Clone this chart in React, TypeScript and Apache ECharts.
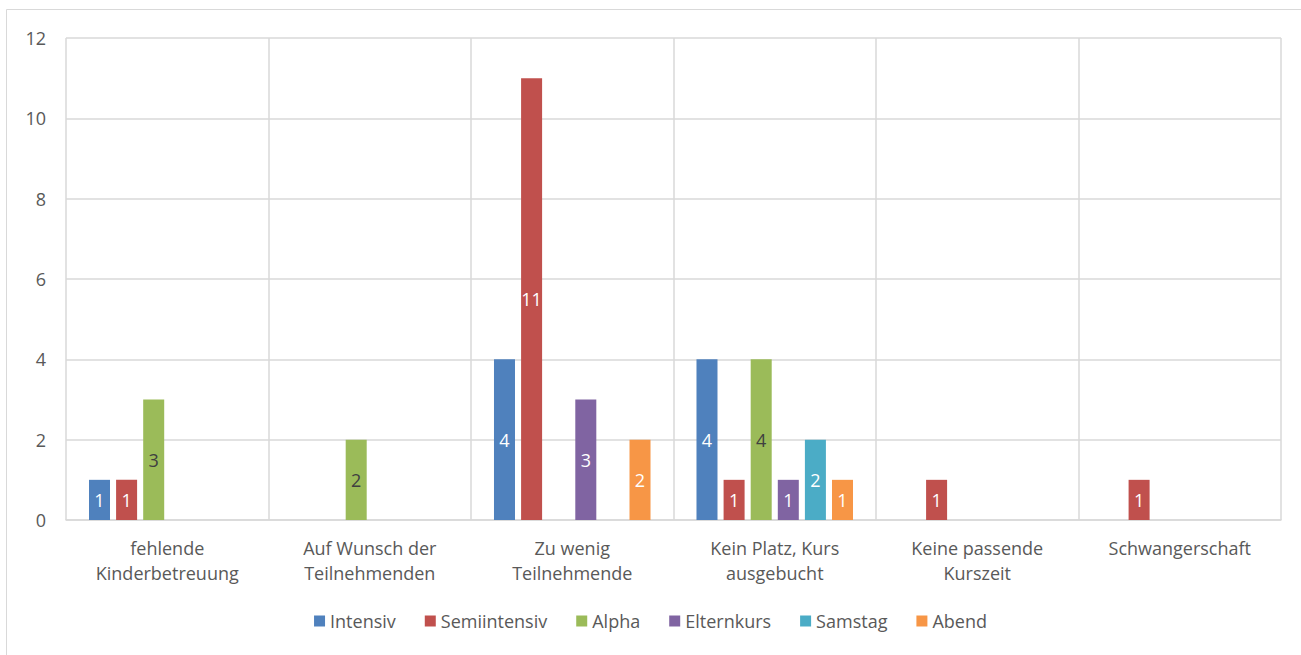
import React, { useEffect, useRef } from "react";
import * as echarts from "echarts";

const categories = [
  "fehlende\nKinderbetreuung",
  "Auf Wunsch der\nTeilnehmenden",
  "Zu wenig\nTeilnehmende",
  "Kein Platz, Kurs\nausgebucht",
  "Keine passende\nKurszeit",
  "Schwangerschaft",
];
const seriesNames = ["Intensiv", "Semiintensiv", "Alpha", "Elternkurs", "Samstag", "Abend"];
const intensiv = [1, null, 4, 4, null, null];
const semiintensiv = [1, null, 11, 1, 1, 1];
const alpha = [3, 2, null, 4, null, null];
const elternkurs = [null, null, 3, 1, null, null];
const samstag = [null, null, null, 2, null, null];
const abend = [null, null, 2, 1, null, null];
const colors = ["#4F81BD", "#C0504D", "#9BBB59", "#8064A2", "#4BACC6", "#F79646"];
const labelColors = ["#ffffff", "#ffffff", "#404040", "#ffffff", "#ffffff", "#ffffff"];

const FONT = "'Open Sans', sans-serif";

export default function App() {
  const ref = useRef<HTMLDivElement>(null);
  useEffect(() => {
    if (!ref.current) return;
    const chart = echarts.init(ref.current, undefined, { renderer: "svg" });
    const allData = [intensiv, semiintensiv, alpha, elternkurs, samstag, abend];
    chart.setOption({
      animation: false,
      color: colors,
      textStyle: { fontFamily: FONT },
      graphic: [
        {
          type: "rect",
          shape: { x: 6.5, y: 9.5, width: 1310, height: 660 },
          style: { fill: "none", stroke: "#d9d9d9", lineWidth: 1 },
          silent: true,
        },
      ],
      grid: { left: 66, right: 20, top: 38, bottom: 135, containLabel: false },
      legend: {
        bottom: 20,
        left: "center",
        icon: "rect",
        itemWidth: 11,
        itemHeight: 11,
        itemGap: 29,
        textStyle: { color: "#595959", fontSize: 18, fontFamily: FONT },
        data: seriesNames,
      },
      xAxis: {
        type: "category",
        data: categories,
        axisLine: { lineStyle: { color: "#d9d9d9", width: 1.5 } },
        axisTick: { show: false },
        splitLine: { show: true, interval: 0, lineStyle: { color: "#d9d9d9", width: 1.5 } },
        axisLabel: {
          interval: 0,
          color: "#595959",
          fontSize: 18,
          lineHeight: 25,
          margin: 15,
          fontFamily: FONT,
        },
      },
      yAxis: {
        type: "value",
        min: 0,
        max: 12,
        interval: 2,
        axisLine: { show: false },
        axisTick: { show: false },
        splitLine: { lineStyle: { color: "#d9d9d9", width: 1.5 } },
        axisLabel: { color: "#595959", fontSize: 18, margin: 20, fontFamily: FONT },
      },
      series: seriesNames.map((name, i) => ({
        name,
        type: "bar",
        data: allData[i],
        barGap: "29%",
        barCategoryGap: "22.7%",
        label: {
          show: true,
          position: "inside",
          color: labelColors[i],
          fontSize: 18,
          fontFamily: FONT,
        },
      })),
    });
    return () => chart.dispose();
  }, []);
  return (
    <div
      ref={ref}
      style={{ position: "fixed", left: 0, top: 0, width: 1301, height: 655, background: "#fff" }}
    />
  );
}
